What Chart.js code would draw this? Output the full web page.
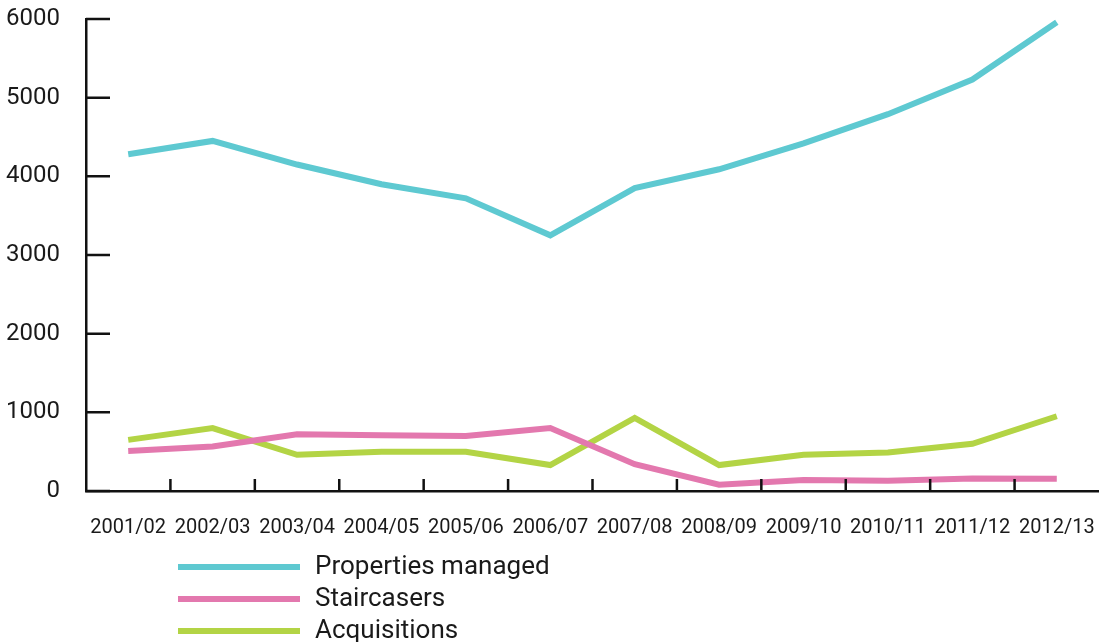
<!DOCTYPE html>
<html>
<head>
<meta charset="utf-8">
<script src="https://cdn.jsdelivr.net/npm/chart.js@4"></script>
<style>
  html, body { margin: 0; padding: 0; background: #fff; overflow: hidden; }
  #wrap { width: 1099px; height: 642px; position: relative; }
</style>
</head>
<body>
<div id="wrap"><canvas id="propChart"></canvas></div>
<script>
// Year labels and series values
const years = ['2001/02', '2002/03', '2003/04', '2004/05', '2005/06', '2006/07',
               '2007/08', '2008/09', '2009/10', '2010/11', '2011/12', '2012/13'];
const propertiesManaged = [4280, 4450, 4150, 3900, 3720, 3250, 3850, 4090, 4420, 4790, 5230, 5960];
const staircasers = [510, 565, 720, 710, 700, 800, 340, 80, 140, 130, 160, 155];
const acquisitions = [650, 800, 460, 500, 500, 330, 930, 330, 460, 490, 600, 950];
const yTicks = [0, 1000, 2000, 3000, 4000, 5000, 6000];

const cyan = '#5ec9d1';
const pink = '#e378ae';
const green = '#b3d445';
const fontFamily = 'Roboto, "Liberation Sans", sans-serif';

// Ticks point inwards from the axis lines, so draw them ourselves
const inwardTicks = {
    id: 'inwardTicks',
    afterDatasetsDraw(chart) {
        const ctx = chart.ctx;
        const x = chart.scales.x;
        const y = chart.scales.y;
        ctx.save();
        ctx.strokeStyle = '#111';
        ctx.lineWidth = 2.5;
        ctx.beginPath();
        y.ticks.forEach((t, i) => {
            const py = y.getPixelForTick(i);
            ctx.moveTo(x.left, py);
            ctx.lineTo(x.left + 24, py);
        });
        for (let i = 1; i < years.length; i++) {
            const px = (x.getPixelForTick(i - 1) + x.getPixelForTick(i)) / 2;
            ctx.moveTo(px, y.bottom);
            ctx.lineTo(px, y.bottom - 12);
        }
        ctx.stroke();
        ctx.restore();
    }
};

// Legend as a vertical list under the axis labels
const listLegend = {
    id: 'listLegend',
    afterDraw(chart) {
        const ctx = chart.ctx;
        ctx.save();
        ctx.font = '400 26px ' + fontFamily;
        ctx.textBaseline = 'middle';
        chart.data.datasets.forEach((ds, i) => {
            const ly = 567 + i * 32;
            ctx.strokeStyle = ds.borderColor;
            ctx.lineWidth = 6;
            ctx.beginPath();
            ctx.moveTo(178, ly);
            ctx.lineTo(300, ly);
            ctx.stroke();
            ctx.fillStyle = '#1a1a1a';
            ctx.fillText(ds.label, 315, ly);
        });
        ctx.restore();
    }
};

const ctx = document.getElementById('propChart').getContext('2d');
const propChart = new Chart(ctx, {
    type: 'line',
    data: {
        labels: years,
        datasets: [
            { label: 'Properties managed', data: propertiesManaged, borderColor: cyan },
            { label: 'Staircasers', data: staircasers, borderColor: pink },
            { label: 'Acquisitions', data: acquisitions, borderColor: green }
        ]
    },
    options: {
        responsive: true,
        maintainAspectRatio: false,
        animation: false,
        datasets: {
            line: { borderWidth: 6, pointRadius: 0, tension: 0, fill: false, borderJoinStyle: 'miter' }
        },
        layout: { padding: { top: 19, right: 0, left: 0, bottom: 85 } },
        plugins: {
            legend: { display: false },
            tooltip: { enabled: false }
        },
        scales: {
            x: {
                offset: true,
                grid: { display: false },
                border: { display: true, color: '#111', width: 2.5 },
                afterFit(scale) {
                    scale.paddingLeft = 0;
                    scale.paddingRight = 0;
                },
                ticks: {
                    color: '#1a1a1a',
                    padding: 17,
                    maxRotation: 0,
                    autoSkip: false,
                    font: { family: fontFamily, size: 20, weight: '400' }
                }
            },
            y: {
                min: 0,
                max: 6000,
                afterBuildTicks(scale) {
                    scale.ticks = yTicks.map(v => ({ value: v }));
                },
                afterFit(scale) {
                    scale.width = 86;
                    scale.paddingTop = 0;
                },
                grid: { display: false },
                border: { display: true, color: '#111', width: 2.5 },
                ticks: {
                    color: '#1a1a1a',
                    padding: 18,
                    callback: v => String(v),
                    font: { family: fontFamily, size: 24, weight: '400' }
                }
            }
        }
    },
    plugins: [inwardTicks, listLegend]
});
</script>
</body>
</html>
